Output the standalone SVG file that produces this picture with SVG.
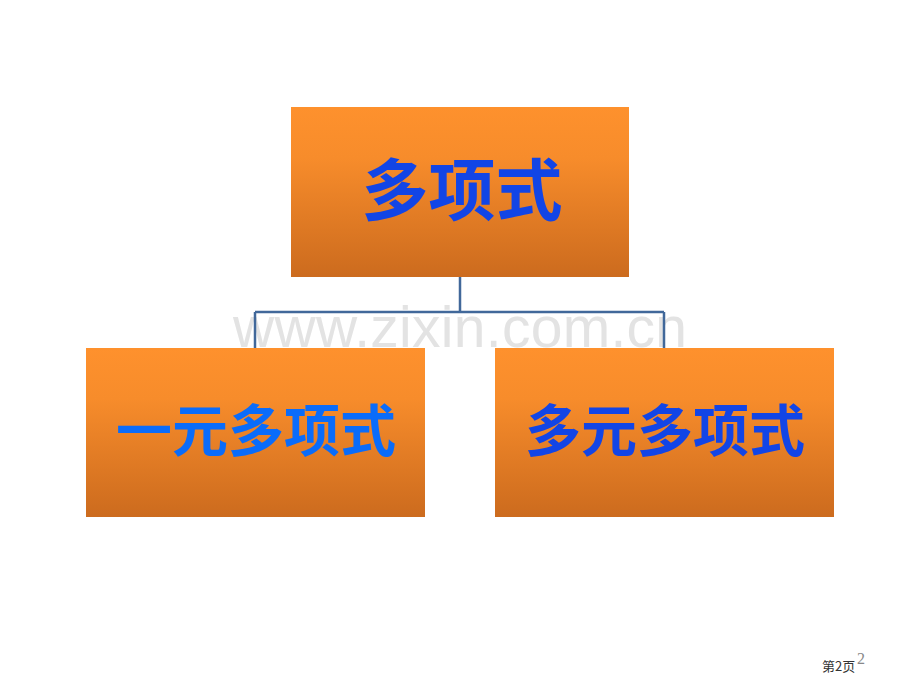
<svg xmlns="http://www.w3.org/2000/svg" width="920" height="690" viewBox="0 0 920 690">
<defs>
<linearGradient id="og" x1="0" y1="0" x2="0" y2="1">
<stop offset="0" stop-color="#FE912D"/>
<stop offset="0.3" stop-color="#F78C2B"/>
<stop offset="1" stop-color="#CC6B1E"/>
</linearGradient>
<style>
.box{fill:url(#og);}
.t{font-family:"Noto Sans CJK SC","Noto Sans CJK JP",sans-serif;font-weight:bold;text-anchor:middle;}
.wire{stroke:#41689A;stroke-width:2.5;fill:none;}
</style>
</defs>
<rect width="920" height="690" fill="#FFFFFF"/>
<text x="460" y="347" font-family="Liberation Sans, Arial, sans-serif" font-size="57" fill="#E3E3E3" text-anchor="middle" textLength="454" lengthAdjust="spacing">www.zixin.com.cn</text>
<g id="connectors">
<path class="wire" d="M460 277 V312 M255 312 H664 M255 312 V348 M664 312 V348"/>
</g>
<g id="node-top">
<rect class="box" x="291" y="107" width="338" height="170"/>
<text class="t" x="462" y="215" font-size="67" fill="#1245E6">多项式</text>
</g>
<g id="node-left">
<rect class="box" x="86" y="348" width="339" height="169"/>
<text class="t" x="256" y="451" font-size="56" fill="#0A6CFA">一元多项式</text>
</g>
<g id="node-right">
<rect class="box" x="495" y="348" width="339" height="169"/>
<text class="t" x="665" y="451" font-size="56" fill="#1245E6">多元多项式</text>
</g>
<text x="822" y="671" font-family="Noto Sans CJK SC, sans-serif" font-size="13" fill="#333333">第2页</text>
<text x="857" y="664" font-family="Liberation Serif, serif" font-size="16" fill="#888888">2</text>
</svg>
